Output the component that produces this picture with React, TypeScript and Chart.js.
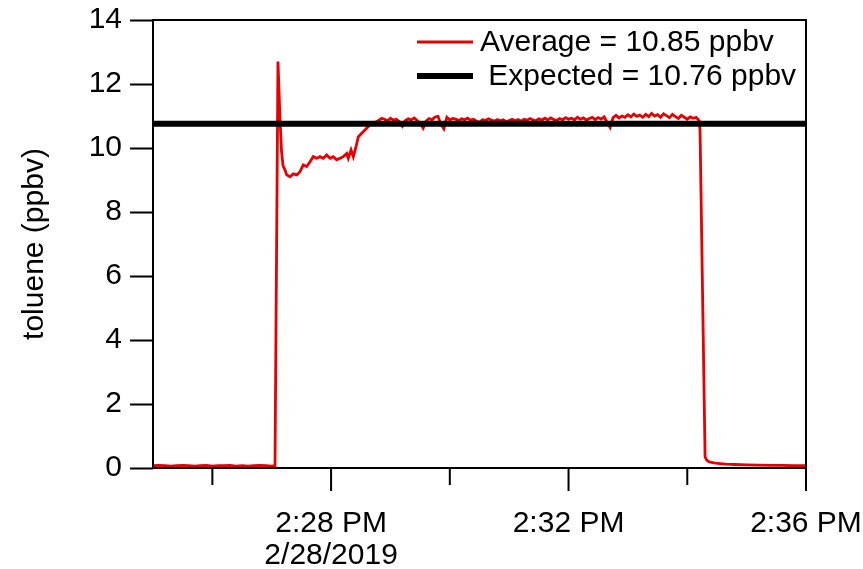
import React, { useEffect, useRef } from 'react';
import { Chart, registerables } from 'chart.js';

Chart.register(...registerables);

// time in minutes after 2:00 PM on 2/28/2019
const TIME_MIN: number[] = [
  25.00, 25.10, 25.20, 25.30, 25.40, 25.50, 25.60, 25.70, 25.80, 25.90, 26.00, 26.10, 26.20, 26.30, 26.40, 26.50, 26.60, 26.70, 26.80, 26.90, 27.00, 27.055,
  27.105, 27.14, 27.165, 27.19, 27.224, 27.252, 27.308, 27.364, 27.421, 27.476, 27.532, 27.589, 27.645, 27.70, 27.758, 27.813, 27.869, 27.926, 27.982, 28.037, 28.095, 28.15, 28.206, 28.263, 28.29, 28.336, 28.374, 28.415, 28.459, 28.516, 28.57, 28.627, 28.684, 28.768, 28.853,
  28.90, 28.95, 29.00, 29.05, 29.10, 29.15, 29.20, 29.25, 29.30, 29.35, 29.40, 29.45, 29.50, 29.55, 29.60, 29.65, 29.70, 29.75, 29.80, 29.85, 29.90, 29.95,
  30.00, 30.05, 30.10, 30.15, 30.20, 30.25, 30.30, 30.35, 30.40, 30.45, 30.50, 30.55, 30.60, 30.65, 30.70, 30.75, 30.80, 30.85, 30.90, 30.95,
  31.00, 31.05, 31.10, 31.15, 31.20, 31.25, 31.30, 31.35, 31.40, 31.45, 31.50, 31.55, 31.60, 31.65, 31.70, 31.75, 31.80, 31.85, 31.90, 31.95,
  32.00, 32.05, 32.10, 32.15, 32.20, 32.25, 32.30, 32.35, 32.40, 32.45, 32.50, 32.55, 32.60, 32.65, 32.70, 32.75, 32.80, 32.85, 32.90, 32.95,
  33.00, 33.05, 33.10, 33.15, 33.20, 33.25, 33.30, 33.35, 33.40, 33.45, 33.50, 33.55, 33.60, 33.65, 33.70, 33.75, 33.80, 33.85, 33.90, 33.95,
  34.00, 34.05, 34.10, 34.15,
  34.20, 34.215, 34.30, 34.33, 34.37, 34.45, 34.55, 34.65, 34.80, 35.00, 35.20, 35.40, 35.60, 35.80, 36.00,
];

const TOLUENE_PPBV: number[] = [
  0.07, 0.08, 0.07, 0.06, 0.07, 0.08, 0.07, 0.06, 0.07, 0.08, 0.06, 0.07, 0.07, 0.08, 0.06, 0.07, 0.06, 0.07, 0.08, 0.07, 0.06, 0.07,
  12.70, 10.90, 9.90, 9.45, 9.31, 9.16, 9.10, 9.19, 9.16, 9.26, 9.47, 9.42, 9.57, 9.73, 9.68, 9.73, 9.68, 9.78, 9.68, 9.73, 9.63, 9.68, 9.73, 9.83, 9.68, 9.94, 9.73, 10.00, 10.35, 10.46, 10.56, 10.67, 10.79, 10.82, 10.93,
  10.90, 10.85, 10.93, 10.87, 10.90, 10.82, 10.68, 10.86, 10.91, 10.88, 10.94, 10.86, 10.78, 10.62, 10.84, 10.92, 10.88, 10.97, 10.99, 10.74, 10.60, 10.96,
  10.88, 10.92, 10.90, 10.86, 10.91, 10.88, 10.93, 10.87, 10.90, 10.84, 10.80, 10.88, 10.86, 10.91, 10.87, 10.84, 10.89, 10.85, 10.88, 10.82,
  10.86, 10.90, 10.85, 10.89, 10.84, 10.90, 10.87, 10.92, 10.88, 10.85, 10.91, 10.87, 10.93, 10.88, 10.94, 10.89, 10.86, 10.92, 10.88, 10.95,
  10.90, 10.93, 10.88, 10.96, 10.90, 10.94, 10.87, 10.92, 10.96, 10.89, 10.95, 10.90, 10.97, 10.80, 10.64, 10.95, 11.02, 10.94, 11.00, 10.96,
  11.04, 10.97, 11.06, 10.99, 11.03, 10.96, 11.05, 10.98, 11.08, 11.00, 11.04, 10.96, 11.07, 11.01, 10.95, 11.05, 10.98, 10.92, 11.02, 10.96,
  10.90, 10.97, 10.93, 10.96,
  10.85, 10.55, 0.35, 0.24, 0.19, 0.16, 0.14, 0.12, 0.11, 0.10, 0.09, 0.08, 0.08, 0.07, 0.07,
];

const EXPECTED_PPBV = 10.76;
const AVERAGE_LABEL = 'Average = 10.85 ppbv';
const EXPECTED_LABEL = ' Expected = 10.76 ppbv';

const X_MIN = 25;
const X_MAX = 36;
const X_TICKS = [26, 28, 30, 32, 34, 36];
const X_TICK_LABELS: Record<number, string | string[]> = {
  28: ['2:28 PM', '2/28/2019'],
  32: '2:32 PM',
  36: '2:36 PM',
};

const Y_MIN = 0;
const Y_MAX = 14;
const Y_STEP = 2;
const Y_TITLE = 'toluene (ppbv)';

const FONT_FAMILY = '"Liberation Sans", Arial, Helvetica, sans-serif';
const RED = '#e60000';

const framePlugin = {
  id: 'frameAndLegend',
  afterDatasetsDraw(chart: any) {
    const { ctx, chartArea: a, scales } = chart;
    ctx.save();
    ctx.strokeStyle = '#000';
    ctx.lineWidth = 2;
    ctx.strokeRect(a.left, a.top, a.right - a.left, a.bottom - a.top);
    const xs = scales.x;
    ctx.beginPath();
    xs.ticks.forEach((t: any) => {
      const px = xs.getPixelForValue(t.value);
      const len = X_TICK_LABELS[t.value] ? 23 : 17;
      ctx.moveTo(px, a.bottom);
      ctx.lineTo(px, a.bottom + len);
    });
    ctx.stroke();

    // legend
    chart.data.datasets.forEach((ds: any, i: number) => {
      const y = a.top + 22 + i * 34;
      const x0 = a.left + 264;
      ctx.strokeStyle = ds.borderColor;
      ctx.lineWidth = ds.borderWidth;
      ctx.beginPath();
      ctx.moveTo(x0, y);
      ctx.lineTo(x0 + 56, y);
      ctx.stroke();
      ctx.fillStyle = '#000';
      ctx.font = `30px ${FONT_FAMILY}`;
      ctx.textBaseline = 'middle';
      ctx.textAlign = 'left';
      ctx.fillText(ds.label, x0 + 63, y + 1);
    });
    ctx.restore();
  },
};

export default function App() {
  const canvasRef = useRef<HTMLCanvasElement | null>(null);

  useEffect(() => {
    document.body.style.margin = '0';
    const canvas = canvasRef.current;
    if (!canvas) return;
    const chart = new Chart(canvas, {
      type: 'line',
      data: {
        datasets: [
          {
            label: AVERAGE_LABEL,
            data: TIME_MIN.map((t, i) => ({ x: t, y: TOLUENE_PPBV[i] })),
            borderColor: RED,
            borderWidth: 2.8,
            pointRadius: 0,
            tension: 0,
            fill: false,
            order: 1,
          },
          {
            label: EXPECTED_LABEL,
            data: [
              { x: X_MIN, y: EXPECTED_PPBV },
              { x: X_MAX, y: EXPECTED_PPBV },
            ],
            borderColor: '#000',
            borderWidth: 6,
            pointRadius: 0,
            fill: false,
            order: 0,
          },
        ],
      },
      options: {
        responsive: false,
        animation: false,
        devicePixelRatio: 1,
        layout: { padding: { left: 0, top: 20, right: 57, bottom: 0 } },
        plugins: {
          legend: { display: false },
          tooltip: { enabled: false },
        },
        scales: {
          x: {
            type: 'linear',
            min: X_MIN,
            max: X_MAX,
            afterBuildTicks: (s: any) => {
              s.ticks = X_TICKS.map((v) => ({ value: v }));
            },
            afterFit: (s: any) => {
              s.height = 101;
              s.paddingLeft = 0;
              s.paddingRight = 0;
            },
            ticks: {
              autoSkip: false,
              maxRotation: 0,
              minRotation: 0,
              padding: 40,
              color: '#000',
              font: { family: FONT_FAMILY, size: 30, lineHeight: 1.07 },
              callback: (v: any) => X_TICK_LABELS[v as number] ?? '',
            },
            grid: { display: false, drawTicks: false },
            border: { display: false },
          },
          y: {
            type: 'linear',
            min: Y_MIN,
            max: Y_MAX,
            afterFit: (s: any) => {
              s.width = 153;
              s.paddingTop = 0;
              s.paddingBottom = 0;
            },
            ticks: {
              stepSize: Y_STEP,
              padding: 8,
              color: '#000',
              font: { family: FONT_FAMILY, size: 30 },
            },
            grid: {
              drawOnChartArea: false,
              drawTicks: true,
              tickLength: 23,
              tickWidth: 2,
              tickColor: '#000',
            },
            border: { display: false },
            title: {
              display: true,
              text: Y_TITLE,
              color: '#000',
              font: { family: FONT_FAMILY, size: 30 },
              padding: { top: 17, bottom: 0 },
            },
          },
        },
      },
      plugins: [framePlugin],
    });
    return () => chart.destroy();
  }, []);

  return (
    <canvas
      ref={canvasRef}
      width={863}
      height={569}
      style={{ display: 'block', width: 863, height: 569 }}
    />
  );
}
